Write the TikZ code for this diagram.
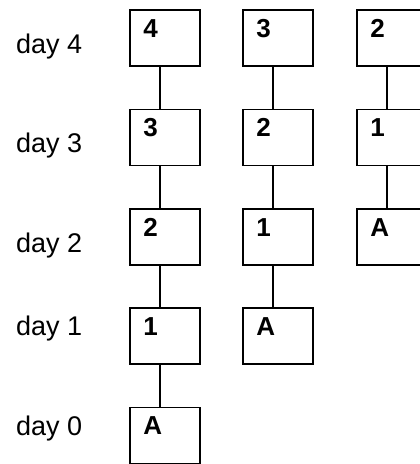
\documentclass[tikz,border=0pt]{standalone}
\usepackage{fontspec}
\setmainfont{Liberation Sans}
\begin{document}
\begin{tikzpicture}[x=1pt,y=-1pt,
  daybox/.style={draw,line width=1.5pt,minimum width=70pt,minimum height=56pt,inner sep=0pt},
  num/.style={anchor=base west,inner sep=0pt,font=\fontsize{26}{26}\selectfont\bfseries},
  daylabel/.style={anchor=base west,inner sep=0pt,font=\fontsize{27}{27}\selectfont},
  link/.style={line width=1.5pt}]
\useasboundingbox (0,0) rectangle (420,464);
\clip (0,0) rectangle (420,464);
% labels
\node[daylabel] (l4) at (16,53) {day 4};
\node[daylabel] (l3) at (16,152) {day 3};
\node[daylabel] (l2) at (16,252) {day 2};
\node[daylabel] (l1) at (16,335) {day 1};
\node[daylabel] (l0) at (16,435) {day 0};
% boxes
\foreach \n/\x/\y/\t in {a4/165/38/4,a3/165/137.5/3,a2/165/237/2,a1/165/336/1,a0/165/435.5/A,
  b4/278/38/3,b3/278/137.5/2,b2/278/237/1,b1/278/336/A,
  c4/392/38/2,c3/392/137.5/1,c2/392/237/A}{
  \node[daybox] (\n) at (\x,\y) {};
  \node[num] (\n t) at ([xshift=14pt,yshift=-28pt]\n.north west) {\t};
}
% connectors
\foreach \u/\l in {a4/a3,a3/a2,a2/a1,a1/a0,b4/b3,b3/b2,b2/b1,c4/c3,c3/c2}
  \draw[link] ([xshift=-5pt]\u.south) -- ([xshift=-5pt]\l.north);
\end{tikzpicture}
\end{document}
